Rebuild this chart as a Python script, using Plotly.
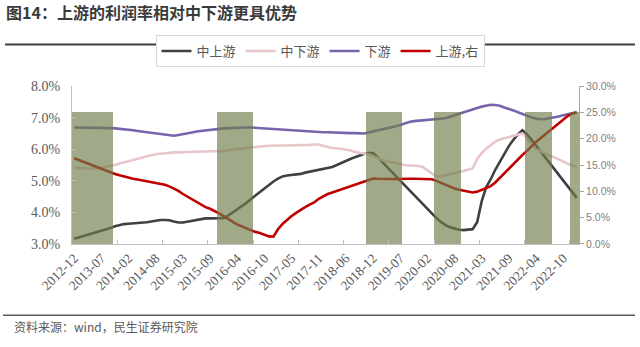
import plotly.graph_objects as go

# Monthly observations (January is folded into February in the statistics)
dates = ["2012-12"] + [f"{y}-{m:02d}" for y in range(2013, 2023) for m in range(2, 13)] + ["2023-02"]

tick_labels = ["2012-12", "2013-07", "2014-02", "2014-08", "2015-03", "2015-09",
               "2016-04", "2016-10", "2017-05", "2017-11", "2018-06", "2018-12",
               "2019-07", "2020-02", "2020-08", "2021-03", "2021-09", "2022-04",
               "2022-10"]

# 中上游 profit margin (%)
mid_upstream = [3.17,
    3.21, 3.25, 3.29, 3.33, 3.37, 3.42, 3.47, 3.51, 3.56, 3.60, 3.63,
    3.64, 3.65, 3.65, 3.67, 3.69, 3.71, 3.74, 3.76, 3.76, 3.75, 3.71,
    3.68, 3.68, 3.71, 3.74, 3.76, 3.79, 3.81, 3.81, 3.81, 3.81, 3.82,
    3.90, 4.00, 4.09, 4.20, 4.30, 4.42, 4.53, 4.65, 4.77, 4.88, 4.98,
    5.07, 5.14, 5.17, 5.18, 5.19, 5.22, 5.26, 5.29, 5.32, 5.35, 5.38,
    5.41, 5.44, 5.50, 5.57, 5.63, 5.69, 5.75, 5.81, 5.85, 5.88, 5.88,
    5.75, 5.60, 5.46, 5.32, 5.18, 5.03, 4.88, 4.73, 4.58, 4.43, 4.28,
    4.12, 3.96, 3.82, 3.70, 3.60, 3.53, 3.48, 3.45, 3.44, 3.45, 3.47,
    3.69, 4.35, 4.80, 5.05, 5.35, 5.60, 5.85, 6.10, 6.30, 6.47, 6.60,
    6.47, 6.30, 6.10, 5.93, 5.75, 5.57, 5.38, 5.20, 5.00, 4.82, 4.64,
    4.46]

# 中下游 profit margin (%)
mid_downstream = [5.41,
    5.40, 5.40, 5.39, 5.39, 5.40, 5.42, 5.44, 5.46, 5.50, 5.55, 5.59,
    5.63, 5.67, 5.71, 5.75, 5.78, 5.81, 5.84, 5.86, 5.88, 5.89, 5.90,
    5.90, 5.91, 5.91, 5.91, 5.92, 5.93, 5.93, 5.93, 5.93, 5.94, 5.95,
    5.97, 5.98, 6.00, 6.02, 6.04, 6.06, 6.08, 6.09, 6.10, 6.11, 6.12,
    6.12, 6.12, 6.12, 6.12, 6.13, 6.13, 6.14, 6.14, 6.15, 6.15, 6.11,
    6.07, 6.04, 6.03, 6.01, 5.99, 5.97, 5.91, 5.88, 5.87, 5.84, 5.78,
    5.71, 5.66, 5.62, 5.59, 5.56, 5.52, 5.50, 5.49, 5.49, 5.47, 5.44,
    5.33, 5.22, 5.13, 5.14, 5.18, 5.22, 5.26, 5.28, 5.31, 5.34, 5.39,
    5.69, 5.88, 6.02, 6.14, 6.24, 6.31, 6.35, 6.39, 6.44, 6.48, 6.50,
    6.35, 6.15, 6.00, 5.93, 5.86, 5.80, 5.75, 5.68, 5.60, 5.54, 5.49,
    5.45]

# 下游 profit margin (%)
downstream = [6.69,
    6.69, 6.69, 6.69, 6.68, 6.68, 6.68, 6.67, 6.67, 6.66, 6.65, 6.63,
    6.62, 6.60, 6.58, 6.56, 6.55, 6.54, 6.52, 6.50, 6.48, 6.45, 6.43,
    6.45, 6.47, 6.49, 6.53, 6.56, 6.58, 6.60, 6.62, 6.64, 6.65, 6.66,
    6.67, 6.68, 6.69, 6.69, 6.69, 6.69, 6.68, 6.67, 6.66, 6.65, 6.64,
    6.63, 6.62, 6.60, 6.59, 6.58, 6.57, 6.57, 6.56, 6.56, 6.55, 6.54,
    6.54, 6.53, 6.53, 6.52, 6.52, 6.51, 6.51, 6.50, 6.50, 6.53, 6.56,
    6.59, 6.62, 6.65, 6.69, 6.73, 6.77, 6.82, 6.86, 6.89, 6.90, 6.91,
    6.92, 6.93, 6.94, 6.96, 6.98, 7.03, 7.08, 7.13, 7.18, 7.22, 7.27,
    7.31, 7.35, 7.39, 7.41, 7.40, 7.38, 7.32, 7.28, 7.23, 7.17, 7.11,
    7.06, 7.01, 6.97, 6.95, 6.96, 6.98, 7.01, 7.04, 7.08, 7.11, 7.14,
    7.17]

# 上游 profit margin (%), right axis
upstream = [16.3,
    15.95, 15.6, 15.25, 14.9, 14.55, 14.2, 13.85, 13.55, 13.3, 13.05, 12.8,
    12.6, 12.4, 12.25, 12.1, 11.95, 11.8, 11.65, 11.5, 11.25, 10.95, 10.6,
    10.1, 9.5, 9.0, 8.5, 8.0, 7.5, 7.0, 6.7, 6.3, 5.8, 5.3,
    4.75, 4.2, 3.7, 3.35, 3.0, 2.6, 2.3, 2.1, 1.8, 1.45, 1.4,
    2.8, 3.8, 4.6, 5.3, 5.9, 6.5, 7.0, 7.5, 7.9, 8.6, 9.1,
    9.5, 9.8, 10.1, 10.4, 10.7, 11.0, 11.2, 11.5, 11.8, 12.2, 12.45,
    12.4, 12.35, 12.35, 12.35, 12.35, 12.4, 12.4, 12.4, 12.4, 12.4, 12.4,
    12.35, 12.3, 12.0, 11.6, 11.25, 10.9, 10.55, 10.3, 10.1, 9.9, 9.8,
    9.95, 10.3, 10.65, 11.0, 11.7, 12.6, 13.4, 14.3, 15.2, 16.1, 16.9,
    17.7, 18.6, 19.4, 20.1, 20.8, 21.5, 22.2, 22.9, 23.6, 24.3, 24.8,
    25.0]

# Shaded periods (first and last month) and the height of the shading bars
shade_periods = [("2012-12", "2013-09"), ("2015-11", "2016-07"), ("2018-11", "2019-07"),
                 ("2020-04", "2020-09"), ("2022-02", "2022-07"), ("2022-12", "2023-02")]
shade_level = 25

shade = [None] * len(dates)
for start, end in shade_periods:
    for i in range(dates.index(start), dates.index(end) + 1):
        shade[i] = shade_level

fig = go.Figure()

line_w = 2.6
fig.add_trace(go.Scatter(x=dates, y=mid_upstream, name="中上游", mode="lines",
                         line=dict(color="#404040", width=line_w)))
fig.add_trace(go.Scatter(x=dates, y=mid_downstream, name="中下游", mode="lines",
                         line=dict(color="#e8c6ca", width=line_w)))
fig.add_trace(go.Scatter(x=dates, y=downstream, name="下游", mode="lines",
                         line=dict(color="#7864ac", width=line_w)))
fig.add_trace(go.Scatter(x=dates, y=upstream, name="上游,右", mode="lines", yaxis="y2",
                         line=dict(color="#c00000", width=line_w)))
fig.add_trace(go.Bar(x=dates, y=shade, yaxis="y3", showlegend=False,
                     marker=dict(color="#6f7d4a", line=dict(width=0)), opacity=0.65,
                     hoverinfo="skip"))
# carrier for the minor x tick marks
fig.add_trace(go.Scatter(x=[], y=[], xaxis="x2", showlegend=False, hoverinfo="skip"))

n = len(dates)
serif = "Liberation Serif"
cjk = "Noto Sans CJK SC"

fig.update_layout(
    width=640, height=347,
    margin=dict(l=72, r=61, t=69, b=103),
    paper_bgcolor="white", plot_bgcolor="white",
    bargap=0,
    showlegend=True,
    title=dict(text="<b>图14：上游的利润率相对中下游更具优势</b>",
               font=dict(family=cjk, size=16, color="#3a3a3a"),
               x=6 / 640, xref="container", xanchor="left",
               y=1 - 13 / 347, yref="container", yanchor="middle"),
    legend=dict(orientation="h", x=0.5, xref="container", xanchor="center",
                y=1 - 35 / 347, yref="container", yanchor="top",
                bordercolor="#d9d9d9", borderwidth=1, bgcolor="white",
                font=dict(family=cjk, size=13, color="#595959"),
                itemwidth=30),
    xaxis=dict(type="category", range=[-0.5, n - 0.5], tickmode="array",
               tickvals=tick_labels, ticktext=tick_labels, tickangle=-45,
               ticks="", showline=True, linecolor="#bfbfbf", linewidth=1,
               showgrid=False, zeroline=False,
               tickfont=dict(family=serif, size=13.5, color="#595959")),
    xaxis2=dict(overlaying="x", anchor="y", side="bottom", range=[-0.5, n - 0.5],
                tick0=9.5, dtick=10, ticks="inside", ticklen=4, tickcolor="#bfbfbf",
                showticklabels=False, showline=False, showgrid=False, zeroline=False),
    yaxis=dict(range=[3, 8], tick0=3, dtick=1, tickformat=".1f", ticksuffix="%",
               ticks="inside", ticklen=4, tickcolor="#bfbfbf",
               showline=True, linecolor="#bfbfbf", linewidth=1,
               showgrid=False, zeroline=False, ticklabelstandoff=8,
               tickfont=dict(family=serif, size=14, color="#595959")),
    yaxis2=dict(overlaying="y", side="right", range=[0, 30], tick0=0, dtick=5,
                tickformat=".1f", ticksuffix="%", ticks="outside", ticklen=4,
                tickcolor="#a6a6a6", showline=True, linecolor="#a6a6a6", linewidth=1,
                showgrid=False, zeroline=False,
                tickfont=dict(family="Liberation Sans", size=10.5, color="#7f7f7f")),
    yaxis3=dict(overlaying="y", range=[0, 30], visible=False),
)

# rules above the plot and above the source note
pw, ph = 640 - 72 - 61, 347 - 69 - 103
def px_x(v):
    return (v - 72) / pw
def px_y(v):
    return (347 - 103 - v) / ph

fig.add_shape(type="line", xref="paper", yref="paper",
              x0=px_x(5), x1=px_x(635), y0=px_y(23), y1=px_y(23),
              line=dict(color="#404040", width=2))
fig.add_shape(type="line", xref="paper", yref="paper",
              x0=px_x(3), x1=px_x(635), y0=px_y(323), y1=px_y(323),
              line=dict(color="#595959", width=1.5))
fig.add_annotation(text="资料来源：wind，民生证券研究院", xref="paper", yref="paper",
                   x=px_x(12), y=px_y(335), xanchor="left", yanchor="middle",
                   showarrow=False, font=dict(family=cjk, size=12, color="#595959"))

fig.write_html("out.html")
